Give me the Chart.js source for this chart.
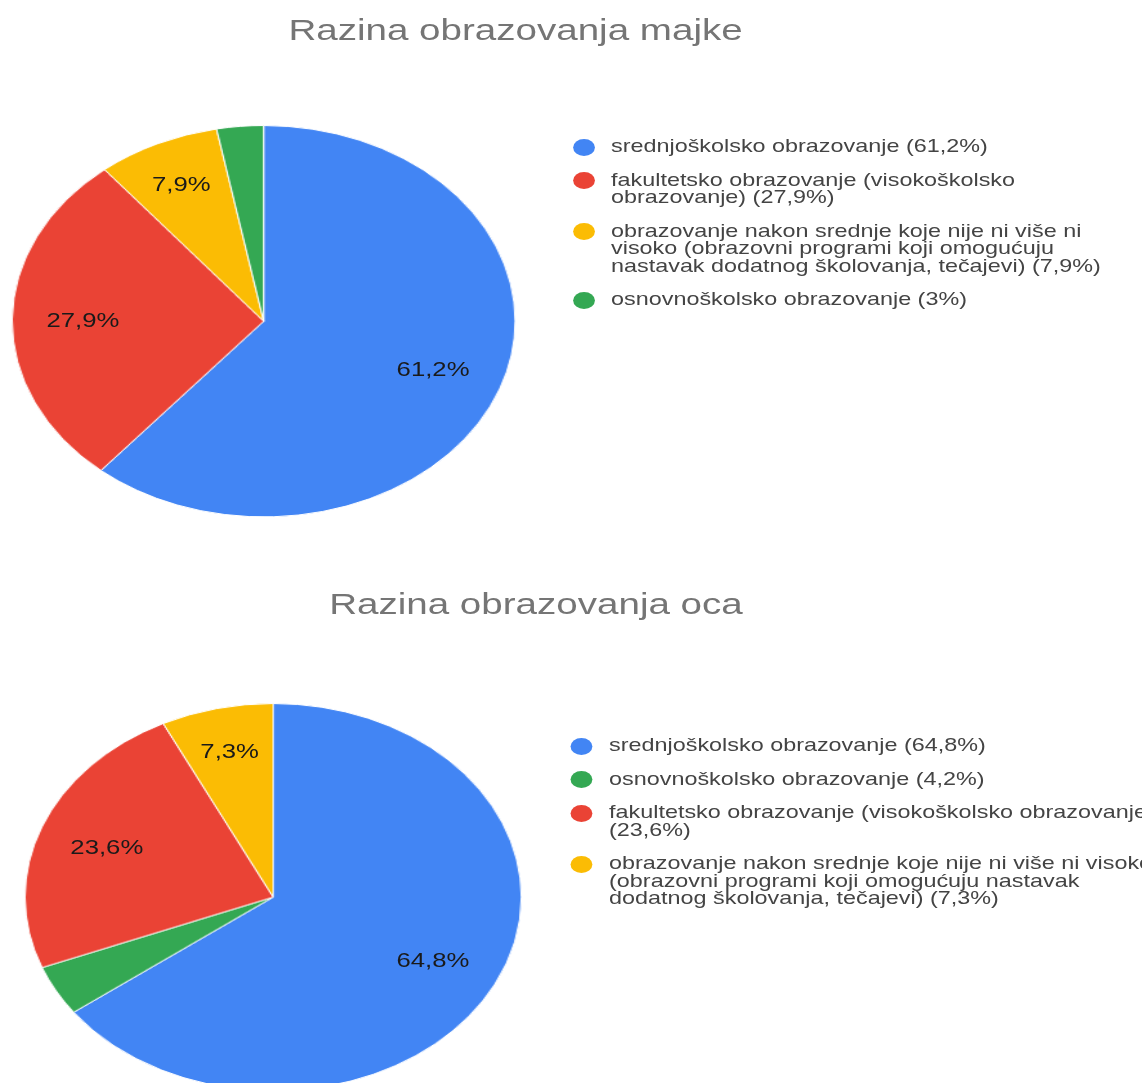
<!DOCTYPE html>
<html lang="hr">
<head>
<meta charset="utf-8">
<title>Razina obrazovanja</title>
<script src="https://cdn.jsdelivr.net/npm/chart.js@4.4.1/dist/chart.umd.min.js"></script>
<style>
  html, body { margin:0; padding:0; background:#fff; overflow:hidden; }
  body { width:1142px; height:1083px; position:relative; }
  /* original picture is stretched horizontally, so the whole stage is too */
  #stage { position:absolute; left:0; top:0; width:889px; height:1083px; transform-origin:0 0; transform:scaleX(1.285);
           font-family:"Liberation Sans", Arial, sans-serif; }
  .title { position:absolute; left:0; text-align:center; font-size:30px; line-height:36px; color:#757575; white-space:nowrap; }
  .pie { position:absolute; }
  .legend { position:absolute; font-size:18.2px; line-height:17.5px; color:#444; white-space:nowrap; }
  .legend .item { position:relative; margin-bottom:16px; }
  .legend .dot { position:absolute; left:0; top:0.25px; width:17px; height:17px; border-radius:50%; }
  .lbl { position:absolute; font-size:20px; line-height:20px; color:#1a1a1a; transform:translate(-50%,-50%); white-space:nowrap; }
</style>
</head>
<body>
<div id="stage">
  <div class="title" id="title1" style="top:12px;width:802.4px"></div>
  <div class="pie" style="left:9.4px;top:125.3px;width:391.4px;height:391.4px"><canvas id="pie1"></canvas></div>
  <div class="legend" id="legend1" style="left:446px;top:138.25px"></div>

  <div class="title" id="title2" style="top:586px;width:834.2px"></div>
  <div class="pie" style="left:19.2px;top:703.4px;width:387.2px;height:387.2px"><canvas id="pie2"></canvas></div>
  <div class="legend" id="legend2" style="left:443.6px;top:737.25px"></div>
</div>
<script>
// majka
const TITLE1 = "Razina obrazovanja majke";
const CATS1 = [
  ["srednjoškolsko obrazovanje"],
  ["fakultetsko obrazovanje (visokoškolsko", "obrazovanje)"],
  ["obrazovanje nakon srednje koje nije ni više ni", "visoko (obrazovni programi koji omogućuju", "nastavak dodatnog školovanja, tečajevi)"],
  ["osnovnoškolsko obrazovanje"]
];
const VALS1 = [61.2, 27.9, 7.9, 3];
const COLORS1 = ["#4285F4", "#EA4335", "#FBBC04", "#34A853"];

// otac
const TITLE2 = "Razina obrazovanja oca";
const CATS2 = [
  ["srednjoškolsko obrazovanje"],
  ["osnovnoškolsko obrazovanje"],
  ["fakultetsko obrazovanje (visokoškolsko obrazovanje)", ""],
  ["obrazovanje nakon srednje koje nije ni više ni visoko", "(obrazovni programi koji omogućuju nastavak", "dodatnog školovanja, tečajevi)"]
];
const VALS2 = [64.8, 4.2, 23.6, 7.3];
const COLORS2 = ["#4285F4", "#34A853", "#EA4335", "#FBBC04"];

const MIN_LABEL = 5;   // manji odsječci nemaju natpis
const labelRadius = (v) => v < 10 ? 0.775 : 0.72;

const $ = (id) => document.getElementById(id);
const pct = (v) => String(v).replace(".", ",") + "%";

const sliceLabels = {
  id: "sliceLabels",
  afterRender(chart){
    const box = chart.canvas.parentNode;
    box.querySelectorAll(".lbl").forEach(e => e.remove());
    const vals = chart.data.datasets[0].data;
    chart.getDatasetMeta(0).data.forEach((arc, i) => {
      if (vals[i] < MIN_LABEL) return;
      const p = arc.getProps(["x","y","startAngle","endAngle","outerRadius"], true);
      const a = (p.startAngle + p.endAngle) / 2;
      const r = p.outerRadius * labelRadius(vals[i]);
      const el = document.createElement("span");
      el.className = "lbl";
      el.textContent = pct(vals[i]);
      el.style.left = (p.x + Math.cos(a) * r) + "px";
      el.style.top = (p.y + Math.sin(a) * r) + "px";
      box.appendChild(el);
    });
  }
};

function renderLegend(chart, wrapId, textLeft){
  const wrap = $(wrapId); wrap.innerHTML = "";
  const ds = chart.data.datasets[0];
  chart.data.labels.forEach((lines, i) => {
    const item = document.createElement("div");
    item.className = "item";
    item.style.paddingLeft = textLeft + "px";
    const dot = document.createElement("span");
    dot.className = "dot";
    dot.style.background = ds.backgroundColor[i];
    item.appendChild(dot);
    const txt = lines.slice();
    const last = txt.length - 1;
    txt[last] = (txt[last] ? txt[last] + " " : "") + "(" + pct(ds.data[i]) + ")";
    txt.forEach(t => {
      const ln = document.createElement("div");
      ln.textContent = t;
      item.appendChild(ln);
    });
    wrap.appendChild(item);
  });
}

function makePie(canvasId, labels, vals, colors){
  return new Chart($(canvasId), {
    type: "pie",
    data: { labels, datasets: [{ data: vals, backgroundColor: colors, borderColor: "#ffffff", borderWidth: 1 }] },
    options: {
      responsive: true,
      maintainAspectRatio: false,
      animation: false,
      layout: { padding: 0 },
      plugins: { legend: { display: false }, tooltip: { enabled: false } }
    },
    plugins: [sliceLabels]
  });
}

function init(){
  $("title1").textContent = TITLE1;
  $("title2").textContent = TITLE2;
  const c1 = makePie("pie1", CATS1, VALS1, COLORS1);
  const c2 = makePie("pie2", CATS2, VALS2, COLORS2);
  renderLegend(c1, "legend1", 29.5);
  renderLegend(c2, "legend2", 30.4);
}
init();
</script>
</body>
</html>
